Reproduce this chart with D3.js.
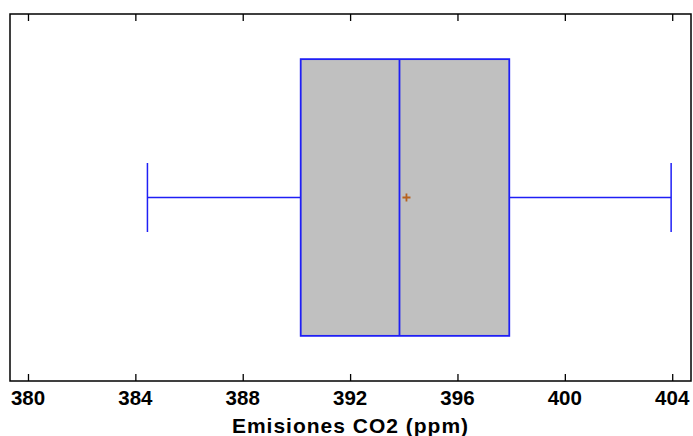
<!DOCTYPE html>
<html>
<head>
<meta charset="utf-8">
<script src="https://cdn.jsdelivr.net/npm/d3@7"></script>
<style>
  body { margin: 0; background: #fff; }
  svg { font-family: "Liberation Sans", Arial, sans-serif; }
</style>
</head>
<body>
<div id="chart"></div>
<script>
// Box-and-whisker summary
var stats = { min: 384.45, q1: 390.16, median: 393.84, q3: 397.93, max: 403.96, mean: 394.1 };
var tickValues = [380, 384, 388, 392, 396, 400, 404];
var xDomain = [379.33, 404.7];
var xTitle = 'Emisiones CO2 (ppm)';

var W = 693, H = 436;
var frame = { left: 10, top: 14, right: 691, bottom: 381 };

var svg = d3.select('#chart').append('svg')
    .attr('width', W)
    .attr('height', H);

var x = d3.scaleLinear().domain(xDomain).range([frame.left, frame.right]);

// vertical positions of the box (fraction of the plot height)
var y = d3.scaleLinear().domain([0, 1]).range([frame.top, frame.bottom]);
var boxTop = y(0.123), boxBottom = y(0.877), mid = y(0.5);
var capTop = y(0.406), capBottom = y(0.594);

var BLUE = '#1f1ff5';

// whiskers
var g = svg.append('g');
g.append('line')
    .attr('x1', x(stats.min)).attr('x2', x(stats.q1))
    .attr('y1', mid).attr('y2', mid)
    .attr('stroke', BLUE).attr('stroke-width', 1.5);
g.append('line')
    .attr('x1', x(stats.q3)).attr('x2', x(stats.max))
    .attr('y1', mid).attr('y2', mid)
    .attr('stroke', BLUE).attr('stroke-width', 1.5);
[stats.min, stats.max].forEach(function (v) {
    g.append('line')
        .attr('x1', x(v)).attr('x2', x(v))
        .attr('y1', capTop).attr('y2', capBottom)
        .attr('stroke', BLUE).attr('stroke-width', 1.5);
});

// box
g.append('rect')
    .attr('x', x(stats.q1))
    .attr('y', boxTop)
    .attr('width', x(stats.q3) - x(stats.q1))
    .attr('height', boxBottom - boxTop)
    .attr('fill', '#c0c0c0')
    .attr('stroke', BLUE)
    .attr('stroke-width', 1.8);

// median
g.append('line')
    .attr('x1', x(stats.median)).attr('x2', x(stats.median))
    .attr('y1', boxTop).attr('y2', boxBottom)
    .attr('stroke', BLUE).attr('stroke-width', 1.8);

// mean marker
var mx = x(stats.mean);
g.append('path')
    .attr('d', 'M' + (mx - 4) + ',' + mid + 'H' + (mx + 4) + 'M' + mx + ',' + (mid - 4) + 'V' + (mid + 4))
    .attr('stroke', '#b8621e').attr('stroke-width', 1.8);

// axes: ticks inward on top and bottom
var bottomAxis = d3.axisTop(x).tickValues(tickValues).tickSize(7).tickFormat('');
svg.append('g')
    .attr('transform', 'translate(0,' + frame.bottom + ')')
    .call(bottomAxis)
    .call(function (s) { s.select('.domain').remove(); s.selectAll('line').attr('stroke', '#000').attr('stroke-width', 1.3); });

var topAxis = d3.axisBottom(x).tickValues(tickValues).tickSize(7).tickFormat('');
svg.append('g')
    .attr('transform', 'translate(0,' + frame.top + ')')
    .call(topAxis)
    .call(function (s) { s.select('.domain').remove(); s.selectAll('line').attr('stroke', '#000').attr('stroke-width', 1.3); });

// tick labels
svg.append('g').selectAll('text')
    .data(tickValues)
    .join('text')
    .attr('x', function (d) { return x(d); })
    .attr('y', 405)
    .attr('text-anchor', 'middle')
    .attr('font-size', 20.5)
    .attr('font-weight', 'bold')
    .attr('fill', '#000')
    .text(function (d) { return d; });

// frame
svg.append('rect')
    .attr('x', frame.left).attr('y', frame.top)
    .attr('width', frame.right - frame.left)
    .attr('height', frame.bottom - frame.top)
    .attr('fill', 'none')
    .attr('stroke', '#000')
    .attr('stroke-width', 1.5);

// axis title
svg.append('text')
    .attr('x', (frame.left + frame.right) / 2)
    .attr('y', 433)
    .attr('text-anchor', 'middle')
    .attr('font-size', 21)
    .attr('font-weight', 'bold')
    .attr('letter-spacing', 1)
    .attr('fill', '#000')
    .text(xTitle);
</script>
</body>
</html>
